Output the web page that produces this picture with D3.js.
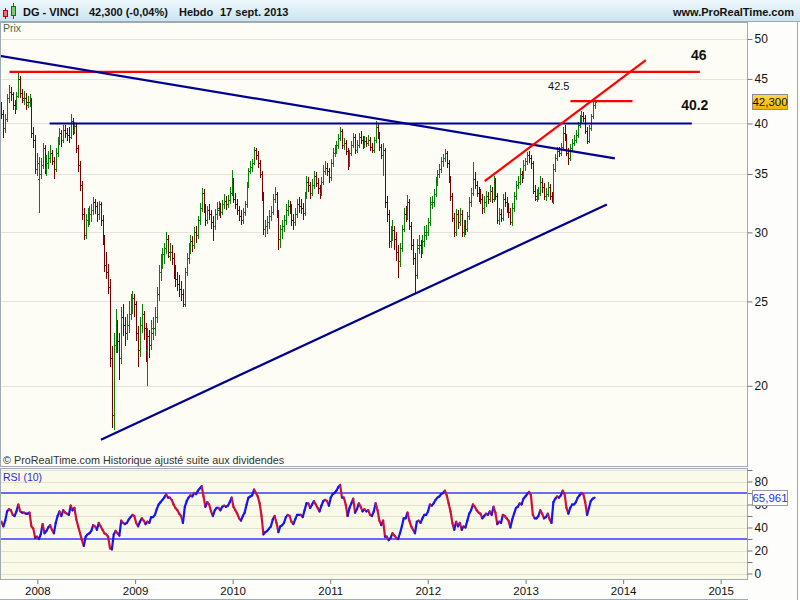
<!DOCTYPE html>
<html><head><meta charset="utf-8">
<script src="https://cdn.jsdelivr.net/npm/d3@7"></script>
<style>body{margin:0;background:#fff;} svg{display:block;font-family:Arial,"Liberation Sans",sans-serif;}</style>
</head><body><svg id="c" width="800" height="600"></svg>
<script>
// ---------- DATA ----------
const firstWeek = [2007, 7, 20]; // Monday of the first weekly bar (UTC, month 0-based)
const opens = [41.8,41.0,39.5,40.5,42.8,43.5,43.2,42.0,41.8,43.0,
45.0,43.3,42.6,42.8,42.0,42.3,42.6,39.0,38.3,35.5,
34.5,35.0,35.8,37.5,35.5,36.0,36.5,37.0,36.2,35.5,
37.0,38.2,39.0,38.3,39.3,39.0,38.8,38.6,40.3,39.3,
39.7,37.5,35.8,34.0,31.5,29.8,31.0,31.3,31.5,31.8,
32.5,32.2,31.5,32.3,31.0,29.5,27.5,27.0,26.0,21.5,
18.5,22.3,23.5,22.5,21.5,24.0,23.5,23.0,23.5,24.2,
24.8,25.2,24.8,23.0,22.0,23.5,24.2,23.3,22.0,22.8,
22.3,23.0,23.3,24.0,25.5,27.0,27.8,28.3,28.8,29.5,
28.2,28.5,28.0,27.0,26.5,26.2,25.8,25.5,24.8,27.0,
28.0,28.8,29.3,29.0,30.0,29.8,31.0,32.0,33.3,32.0,
31.0,31.8,31.5,30.8,30.5,31.5,31.8,32.0,31.7,32.3,
32.6,32.3,32.7,33.3,34.3,32.8,32.3,31.8,31.3,31.0,
31.7,32.3,34.0,35.3,35.7,36.0,37.3,36.8,36.0,35.0,
33.0,30.3,30.5,30.8,31.3,31.7,32.8,33.2,31.5,29.5,
30.3,30.5,31.0,31.8,32.2,32.0,31.0,30.8,31.5,32.3,
32.2,32.0,31.6,33.0,34.3,34.0,33.3,34.0,34.8,34.2,
33.7,33.3,34.3,35.3,35.6,35.3,34.7,36.0,37.0,37.3,
37.8,38.5,39.2,37.8,38.0,37.2,36.0,37.0,37.8,38.6,
37.3,37.8,38.6,38.3,37.8,38.2,38.0,38.3,37.6,37.3,
38.3,39.6,38.8,37.6,36.8,37.3,32.5,31.5,29.3,29.8,
30.2,29.5,28.5,27.8,28.8,30.3,31.5,31.3,32.5,30.5,
29.0,28.0,26.8,28.8,29.0,28.7,29.3,29.8,30.0,30.8,
32.3,32.5,33.2,34.3,35.0,35.5,36.2,36.5,37.0,36.0,
34.5,33.0,31.2,30.0,31.5,30.8,31.5,30.0,30.5,30.3,
31.3,32.5,33.3,34.5,34.0,33.3,33.0,32.8,32.0,32.5,
33.0,32.8,33.5,32.8,34.3,33.0,31.0,31.5,31.2,32.8,
32.5,32.0,31.7,30.8,32.0,33.0,34.0,34.3,35.0,34.8,
35.8,36.2,36.8,36.5,36.0,33.5,32.8,33.0,33.3,34.3,
33.8,33.0,33.2,33.8,33.0,32.5,35.5,36.5,37.2,37.0,
37.6,39.0,38.6,37.0,36.5,37.5,38.0,38.3,38.8,39.8,
40.5,40.8,40.6,39.2,38.2,39.5,40.8,42.0];
const highs = [42.3,41.5,41.0,43.2,44.3,44.0,43.5,42.6,43.5,46.0,
45.3,43.8,43.6,43.3,43.0,43.2,42.8,39.6,38.8,37.0,
36.6,36.5,38.0,37.8,36.8,37.2,37.8,37.3,36.6,37.5,
38.6,39.5,39.3,39.8,39.8,39.5,39.6,41.0,40.6,40.2,
39.9,37.8,36.2,34.4,32.0,31.5,32.0,32.2,32.3,32.9,
32.8,32.5,32.6,32.5,31.4,29.8,28.5,27.6,26.5,22.2,
23.0,24.5,23.8,23.0,24.6,24.8,24.0,24.2,25.0,25.5,
25.7,25.5,25.0,23.4,24.0,24.8,24.4,23.6,23.3,23.2,
23.8,24.0,24.6,26.0,27.5,28.3,28.8,29.2,30.0,29.8,
29.2,29.0,28.4,27.5,27.0,26.8,26.4,25.8,27.3,28.4,
29.2,29.8,29.7,30.4,30.5,31.3,32.4,33.7,33.6,32.3,
32.2,32.3,31.8,31.3,31.9,32.5,32.6,32.4,32.7,33.2,
33.0,33.1,33.8,35.4,34.6,33.3,32.8,32.2,31.8,32.0,
32.6,34.3,35.6,36.2,36.4,37.6,37.5,37.2,36.3,35.3,
33.4,31.0,31.3,31.8,32.2,33.2,33.8,33.4,31.8,30.6,
31.0,31.4,32.3,32.7,32.6,32.3,31.5,32.0,32.8,32.9,
32.8,32.4,33.4,34.8,34.7,34.3,34.5,35.3,35.2,34.6,
34.0,34.7,35.8,36.2,36.0,35.6,36.4,37.5,37.8,38.2,
38.9,39.6,39.4,38.5,38.3,37.5,37.3,38.2,39.0,38.9,
38.3,39.0,39.2,38.7,38.7,38.6,38.8,38.6,38.0,38.6,
40.3,39.9,39.1,37.9,38.0,37.5,33.0,31.8,30.5,31.0,
30.5,30.0,29.0,29.2,30.6,32.0,32.2,33.1,32.8,30.8,
29.5,28.4,29.5,29.8,29.4,29.8,30.5,30.6,31.2,32.9,
33.0,33.6,34.7,35.4,35.9,36.6,36.9,37.4,37.2,36.3,
34.8,33.3,31.6,31.9,31.8,32.0,31.8,31.0,31.0,31.7,
32.9,33.7,36.1,35.2,34.4,33.8,33.6,33.2,33.0,33.5,
33.4,34.0,33.8,34.8,34.6,33.3,32.0,31.9,33.2,33.4,
32.9,32.4,32.0,32.4,33.4,34.4,34.8,35.6,35.3,36.3,
36.5,37.1,37.2,36.8,36.2,34.0,33.6,33.8,34.8,34.6,
34.2,33.7,34.3,34.1,33.4,35.9,36.9,37.6,37.6,38.0,
39.6,39.8,38.9,37.5,37.9,38.4,38.8,39.3,40.2,40.9,
41.3,41.2,40.9,39.6,39.8,41.0,42.3,42.6];
const lows = [40.5,38.5,39.0,40.2,42.2,42.5,41.5,41.0,41.5,42.8,
42.8,42.2,42.0,41.5,41.7,41.8,38.5,37.5,35.0,34.8,
31.6,34.5,35.5,35.0,34.8,35.5,36.0,35.8,34.5,35.2,
36.6,37.8,37.6,38.0,38.5,38.2,38.0,38.4,38.8,38.9,
37.0,35.2,33.5,31.0,29.4,29.5,30.4,30.6,30.8,31.4,
31.5,30.8,31.0,30.5,29.0,27.0,26.5,25.5,21.0,17.9,
17.8,21.8,21.8,20.3,21.2,22.8,22.2,22.6,23.0,23.8,
24.2,24.0,22.5,21.0,21.6,23.0,22.6,21.3,20.0,21.5,
22.0,22.6,22.8,23.6,25.0,26.4,27.2,27.6,28.3,28.0,
27.8,27.5,26.5,26.0,25.7,25.3,25.0,24.6,24.6,26.7,
27.6,28.3,28.5,28.7,29.2,29.5,30.6,31.7,31.6,30.5,
30.7,31.0,30.3,29.3,30.2,31.0,31.3,31.2,31.4,31.9,
31.8,32.0,32.3,33.0,32.4,31.9,31.4,30.9,30.6,30.7,
31.3,32.0,33.7,35.0,35.2,35.8,36.3,35.6,34.6,32.6,
29.8,29.6,29.9,30.3,30.9,31.4,32.4,31.2,28.6,28.8,
29.5,30.0,30.6,31.3,31.5,30.5,30.2,30.5,31.2,31.6,
31.5,31.0,31.3,32.8,33.4,32.8,33.0,33.6,33.8,33.2,
32.8,33.0,34.0,34.9,34.8,34.2,34.4,35.7,36.6,36.9,
37.4,38.2,37.4,37.3,36.8,35.4,35.7,36.7,37.5,36.9,
37.0,37.5,37.9,37.4,37.5,37.6,37.7,37.2,37.0,37.0,
38.0,38.4,37.2,36.4,34.8,32.0,30.8,28.8,28.8,29.3,
28.6,27.8,26.6,27.4,28.5,30.0,30.8,31.0,30.2,28.6,
27.5,25.5,26.5,28.3,28.0,28.3,28.9,29.4,29.7,30.5,
31.9,32.1,32.9,33.9,34.6,35.1,35.7,36.1,35.6,34.2,
32.6,30.8,29.6,29.7,30.3,30.5,29.6,29.6,29.8,30.0,
31.0,32.1,33.0,33.6,32.9,32.5,32.3,31.5,31.6,32.1,
32.3,32.5,32.4,32.5,32.7,30.7,30.6,30.8,30.9,32.1,
31.6,31.2,30.6,30.5,31.7,32.7,33.6,34.0,34.2,34.5,
35.3,35.8,36.0,35.5,33.2,32.6,32.5,32.7,33.0,33.3,
32.7,32.6,32.9,32.7,32.4,32.3,35.2,36.2,36.6,36.7,
37.4,38.2,36.7,35.8,36.2,37.1,37.7,38.0,38.5,39.5,
40.1,40.2,38.9,37.9,38.0,39.2,40.5,41.6];
const closes = [41.0,39.5,40.5,42.8,43.5,43.2,42.0,41.8,43.0,45.0,
43.3,42.8,42.8,42.3,42.3,42.6,39.0,38.3,35.5,36.0,
35.0,35.8,37.5,35.5,36.0,36.5,37.0,36.2,35.5,37.0,
38.2,39.0,38.3,39.3,39.0,38.8,38.6,40.3,39.3,39.7,
37.5,35.8,34.0,31.5,29.8,31.0,31.3,31.5,31.8,32.5,
32.2,31.5,32.3,31.0,29.5,27.5,27.0,26.0,21.5,18.5,
22.3,23.5,22.5,21.5,24.0,23.5,23.0,23.5,24.2,24.8,
25.2,24.8,23.0,22.0,23.5,24.2,23.3,22.0,22.8,22.3,
23.3,23.3,24.0,25.5,27.0,27.8,28.3,28.8,29.5,28.5,
28.5,28.0,27.0,26.5,26.2,25.8,25.5,24.8,27.0,28.0,
28.8,29.3,29.0,30.0,29.8,31.0,32.0,33.3,32.0,31.0,
31.8,31.5,30.8,30.5,31.5,32.0,32.0,31.7,32.3,32.6,
32.3,32.7,33.3,34.3,32.8,32.3,31.8,31.3,31.0,31.7,
32.3,34.0,35.3,35.7,36.0,37.3,36.8,36.0,35.0,33.0,
30.3,30.5,30.8,31.3,31.7,32.8,33.2,31.5,29.5,30.3,
30.5,31.0,31.8,32.2,32.0,31.0,30.8,31.5,32.3,32.2,
32.0,31.6,33.0,34.3,34.0,33.3,34.0,34.8,34.2,33.7,
33.3,34.3,35.3,35.6,35.3,34.7,36.0,37.0,37.3,37.8,
38.5,39.2,37.8,38.0,37.2,36.0,37.0,37.8,38.6,37.3,
37.8,38.6,38.3,37.8,38.2,38.0,38.3,37.6,37.3,38.3,
39.6,38.8,37.6,36.8,37.3,32.5,31.5,29.3,29.8,30.2,
29.5,28.5,27.8,28.8,30.3,31.5,31.3,32.5,30.5,29.0,
28.0,26.8,29.0,29.0,28.7,29.3,30.0,30.0,30.8,32.5,
32.5,33.2,34.3,35.0,35.5,36.2,36.5,37.0,36.0,34.5,
33.0,31.2,30.0,31.5,30.8,31.5,30.0,30.5,30.3,31.3,
32.5,33.3,34.5,34.0,33.3,33.0,32.8,32.0,32.5,33.0,
32.8,33.5,32.8,34.3,33.0,31.0,31.5,31.2,32.8,32.5,
32.0,31.7,30.8,32.0,33.0,34.0,34.3,35.0,34.8,35.8,
36.2,36.8,36.5,36.0,33.5,33.0,33.0,33.3,34.3,33.8,
33.0,33.2,33.8,33.0,32.5,35.5,36.5,37.2,37.0,37.6,
39.0,38.6,37.0,36.5,37.5,38.0,38.3,38.8,39.8,40.5,
40.8,40.6,39.2,38.2,39.5,40.8,42.0,42.3];
const rsiValues = [45,41,46,54,56,55,51,50,54,60,
54,53,53,52,52,53,41,39,31,32,
30,34,43,35,37,40,42,38,35,44,
50,54,50,55,53,52,51,59,55,57,
47,41,35,29,24,32,34,35,37,42,
41,38,44,41,38,35,34,32,22,21,
34,37,35,33,46,44,43,44,47,49,
51,50,44,41,45,48,46,43,45,44,
49,49,51,56,60,62,64,66,69,66,
66,64,60,57,55,52,50,44,58,63,
66,68,67,70,69,72,74,76,67,58,
62,60,54,50,55,57,57,55,58,59,
58,59,62,66,58,55,52,48,46,50,
53,60,66,67,68,73,70,67,61,50,
34,36,37,39,41,47,50,44,36,41,
42,44,49,51,50,45,43,47,51,51,
51,49,55,61,61,57,60,63,60,57,
54,59,63,64,63,59,66,69,70,72,
75,77,66,66,60,50,57,61,65,53,
56,61,58,54,56,54,55,51,50,54,
61,55,46,42,46,32,32,29,31,35,
33,31,30,35,41,48,48,53,46,41,
38,35,45,46,44,48,51,51,54,60,
59,61,64,66,67,69,70,72,68,61,
54,44,38,45,41,44,38,41,40,46,
52,55,60,58,55,53,52,48,50,52,
51,54,51,58,53,43,45,44,51,50,
48,46,40,47,52,57,58,61,60,65,
67,69,71,68,51,48,48,50,55,52,
48,49,52,47,44,62,65,67,66,68,
72,69,57,52,57,60,60,62,66,68,
70,69,62,51,57,63,65,65.961];
const priceTicks = [20,25,30,35,40,45,50];
const rsiTicks = [0,10,20,30,40,50,60,70,80,90];
const rsiLabelTicks = [0,20,40,60,80];
const rsiLevels = [30,70];
const yearTicks = [2008,2009,2010,2011,2012,2013,2014,2015];
const trendLines = [
  {d1:"2007-09-19", p1:45.85, d2:"2014-10-15", p2:45.85, color:"#ff0000"},
  {d1:"2008-02-16", p1:40.0,  d2:"2014-09-15", p2:40.0,  color:"#000090"},
  {d1:"2007-08-10", p1:47.85, d2:"2013-12-01", p2:36.47, color:"#000090"},
  {d1:"2008-08-26", p1:17.35, d2:"2013-11-01", p2:32.29, color:"#000090"},
  {d1:"2012-08-01", p1:34.36, d2:"2014-03-27", p2:47.3,  color:"#ff0000"},
  {d1:"2013-06-18", p1:42.44, d2:"2014-02-05", p2:42.44, color:"#ff0000"}
];
const notes = [
  {text:"46",   d:"2014-09-12", p:47.9, size:14, bold:true},
  {text:"40.2", d:"2014-08-06", p:42.0, size:14, bold:true},
  {text:"42.5", d:"2013-03-26", p:44.1, size:11, bold:false}
];
const headerParts = ["DG - VINCI", "42,300 (-0,04%)", "Hebdo", "17 sept. 2013"];
const lastPrice = "42,300";
const lastRsi = "65,961";

// ---------- SCALES ----------
const svg = d3.select("#c");
const W = 800, H = 600;
const panelR = 748, mainTop = 22, mainBot = 467, rsiTop = 469, rsiBot = 580;
const x = d3.scaleUtc().domain([Date.UTC(2008,0,1), Date.UTC(2015,0,1)]).range([37.3, 720.7]);
const y = d3.scaleLog().domain([16.14, 52.3]).range([mainBot, mainTop]);
const yr = d3.scaleLinear().domain([0, 80]).range([573.5, 481.5]);
const t0 = Date.UTC(firstWeek[0], firstWeek[1], firstWeek[2]);
const dates = closes.map((_, i) => new Date(t0 + i * 7 * 864e5));
const pd = s => new Date(s + "T00:00:00Z");

// ---------- BACKGROUNDS ----------
const defs = svg.append("defs");
const g1 = defs.append("linearGradient").attr("id","hdr").attr("x1",0).attr("y1",0).attr("x2",0).attr("y2",1);
g1.append("stop").attr("offset","0%").attr("stop-color","#eef8fc");
g1.append("stop").attr("offset","100%").attr("stop-color","#c9e3ef");
const g2 = defs.append("linearGradient").attr("id","gold").attr("x1",0).attr("y1",0).attr("x2",0).attr("y2",1);
g2.append("stop").attr("offset","0%").attr("stop-color","#ffd84a");
g2.append("stop").attr("offset","100%").attr("stop-color","#f0b400");
defs.append("clipPath").attr("id","clipMain").append("rect").attr("x",0).attr("y",mainTop).attr("width",panelR).attr("height",mainBot-mainTop);
defs.append("clipPath").attr("id","clipRsi").append("rect").attr("x",0).attr("y",rsiTop).attr("width",panelR).attr("height",rsiBot-rsiTop);

svg.append("rect").attr("width",W).attr("height",H).attr("fill","#fdfdfb");
svg.append("rect").attr("x",0).attr("y",0).attr("width",W).attr("height",mainTop).attr("fill","url(#hdr)");
svg.append("line").attr("x1",0).attr("x2",W).attr("y1",mainTop-0.5).attr("y2",mainTop-0.5).attr("stroke","#9aaab4");
svg.append("rect").attr("x",0).attr("y",mainTop).attr("width",panelR).attr("height",mainBot-mainTop).attr("fill","#fdfdf5");
svg.append("rect").attr("x",0).attr("y",rsiTop).attr("width",panelR).attr("height",rsiBot-rsiTop).attr("fill","#fafae9");

// header
const ic = svg.append("g");
ic.append("line").attr("x1",5.5).attr("x2",5.5).attr("y1",8).attr("y2",19).attr("stroke","#c00000");
ic.append("rect").attr("x",3.5).attr("y",10.5).attr("width",4).attr("height",6).attr("fill","#f07070").attr("stroke","#c00000");
ic.append("line").attr("x1",13.5).attr("x2",13.5).attr("y1",3).attr("y2",19).attr("stroke","#008000");
ic.append("rect").attr("x",11.5).attr("y",6.5).attr("width",4).attr("height",9).attr("fill","#70d070").attr("stroke","#008000");
const hx = [23, 89, 179, 220];
svg.selectAll("text.hd").data(headerParts).enter().append("text").attr("class","hd")
  .attr("x",(d,i)=>hx[i]).attr("y",16).attr("font-size",11).attr("font-weight","bold").attr("fill","#111").text(d=>d);
svg.append("text").attr("x",794).attr("y",16).attr("text-anchor","end").attr("font-size",11).attr("font-weight","bold").attr("fill","#111").text("www.ProRealTime.com");

// grid lines
svg.append("g").selectAll("line").data(priceTicks).enter().append("line")
  .attr("x1",0).attr("x2",panelR).attr("y1",d=>Math.round(y(d))+0.5).attr("y2",d=>Math.round(y(d))+0.5)
  .attr("stroke","#e4e4dc");
svg.append("g").selectAll("line").data(rsiTicks.filter(d=>!rsiLevels.includes(d))).enter().append("line")
  .attr("x1",0).attr("x2",panelR).attr("y1",d=>Math.round(yr(d))+0.5).attr("y2",d=>Math.round(yr(d))+0.5)
  .attr("stroke","#e2e2cf");

svg.append("text").attr("x",3).attr("y",32).attr("font-size",10.5).attr("fill","#4a6a4a").text("Prix");

// ---------- OHLC BARS ----------
const bars = svg.append("g").attr("clip-path","url(#clipMain)").attr("shape-rendering","crispEdges");
const bar = bars.selectAll("g").data(closes).enter().append("g")
  .attr("stroke",(c,i)=> c >= opens[i] ? "#0a7d0a" : "#780000");
const bx = i => Math.round(x(dates[i])) + 0.5;
bar.append("line").attr("x1",(c,i)=>bx(i)).attr("x2",(c,i)=>bx(i))
  .attr("y1",(c,i)=>y(highs[i])).attr("y2",(c,i)=>y(lows[i]));
bar.append("line").attr("x1",(c,i)=>bx(i)-1.5).attr("x2",(c,i)=>bx(i))
  .attr("y1",(c,i)=>Math.round(y(opens[i]))+0.5).attr("y2",(c,i)=>Math.round(y(opens[i]))+0.5);
bar.append("line").attr("x1",(c,i)=>bx(i)).attr("x2",(c,i)=>bx(i)+1.5)
  .attr("y1",(c,i)=>Math.round(y(c))+0.5).attr("y2",(c,i)=>Math.round(y(c))+0.5);

// ---------- TREND LINES ----------
const tl = svg.append("g").attr("clip-path","url(#clipMain)");
tl.selectAll("line").data(trendLines).enter().append("line")
  .attr("x1",d=>x(pd(d.d1))).attr("y1",d=>y(d.p1)).attr("x2",d=>x(pd(d.d2))).attr("y2",d=>y(d.p2))
  .attr("stroke",d=>d.color).attr("stroke-width",2.2);
svg.selectAll("text.note").data(notes).enter().append("text").attr("class","note")
  .attr("x",d=>x(pd(d.d))).attr("y",d=>y(d.p)).attr("dy","0.35em")
  .attr("font-size",d=>d.size).attr("font-weight",d=>d.bold?"bold":"normal").attr("fill","#111").text(d=>d.text);

svg.append("text").attr("x",3).attr("y",464).attr("font-size",10.8).attr("fill","#333")
  .text("\u00a9 ProRealTime.com  Historique ajust\u00e9 suite aux dividendes");

// ---------- RSI ----------
const rg = svg.append("g").attr("clip-path","url(#clipRsi)");
rg.selectAll("line.lv").data(rsiLevels).enter().append("line").attr("class","lv")
  .attr("x1",0).attr("x2",panelR).attr("y1",d=>yr(d)).attr("y2",d=>yr(d))
  .attr("stroke","#3a3aff").attr("stroke-width",1.3);
const segs = d3.range(rsiValues.length-1);
rg.selectAll("line.rs").data(segs).enter().append("line").attr("class","rs")
  .attr("x1",i=>x(dates[i])).attr("y1",i=>yr(rsiValues[i]))
  .attr("x2",i=>x(dates[i+1])).attr("y2",i=>yr(rsiValues[i+1]))
  .attr("stroke",i=> rsiValues[i+1] >= rsiValues[i] ? "#1414ff" : "#d0103c")
  .attr("stroke-width",2.2).attr("stroke-linecap","round");
svg.append("text").attr("x",3).attr("y",481).attr("font-size",10.5).attr("fill","#2a2ae0").text("RSI (10)");

// ---------- FRAMES ----------
const fr = svg.append("g").attr("fill","none").attr("stroke","#a0aab2").attr("shape-rendering","crispEdges");
fr.append("rect").attr("x",0.5).attr("y",mainTop+0.5).attr("width",panelR-1).attr("height",mainBot-mainTop-1);
fr.append("rect").attr("x",0.5).attr("y",rsiTop-0.5).attr("width",panelR-1).attr("height",rsiBot-rsiTop);
fr.append("line").attr("x1",797.5).attr("x2",797.5).attr("y1",mainTop).attr("y2",H);
fr.append("line").attr("x1",0).attr("x2",panelR).attr("y1",599.5).attr("y2",599.5);

// ---------- AXES ----------
const ay = svg.append("g").attr("transform",`translate(${panelR-0.5},0)`)
  .call(d3.axisRight(y).tickValues(priceTicks).tickFormat(d3.format("d")).tickSize(5).tickPadding(2));
const ar = svg.append("g").attr("transform",`translate(${panelR-0.5},0)`)
  .call(d3.axisRight(yr).tickValues(rsiTicks).tickFormat(d=>rsiLabelTicks.includes(d)?d:"").tickSize(5).tickPadding(2));
const ax = svg.append("g").attr("transform",`translate(0,${rsiBot})`)
  .call(d3.axisBottom(x).tickValues(yearTicks.map(v=>new Date(Date.UTC(v,0,1)))).tickFormat(d3.utcFormat("%Y")).tickSize(4).tickPadding(3));
[ay,ar,ax].forEach(a=>{
  a.select(".domain").remove();
  a.selectAll("line").attr("stroke","#777");
  a.selectAll("text").attr("font-size",12).attr("fill","#111").attr("font-family","Arial,'Liberation Sans',sans-serif");
});
ax.selectAll("text").attr("font-size",11.5);

// last value boxes
const lp = svg.append("g").attr("transform",`translate(752,${Math.round(y(closes[closes.length-1]))})`);
lp.append("rect").attr("x",0.5).attr("y",-7.5).attr("width",35).attr("height",15).attr("fill","url(#gold)").attr("stroke","#8c8c8c");
lp.append("text").attr("x",18).attr("y",0).attr("dy","0.35em").attr("text-anchor","middle").attr("font-size",11.5).attr("fill","#111").text(lastPrice);
const lr = svg.append("g").attr("transform",`translate(752,${Math.round(yr(rsiValues[rsiValues.length-1]))})`);
lr.append("rect").attr("x",0.5).attr("y",-7.5).attr("width",35).attr("height",15).attr("fill","#ffffff").attr("stroke","#9a9a9a");
lr.append("text").attr("x",18).attr("y",0).attr("dy","0.35em").attr("text-anchor","middle").attr("font-size",11.5).attr("fill","#2a2aff").text(lastRsi);
</script></body></html>
